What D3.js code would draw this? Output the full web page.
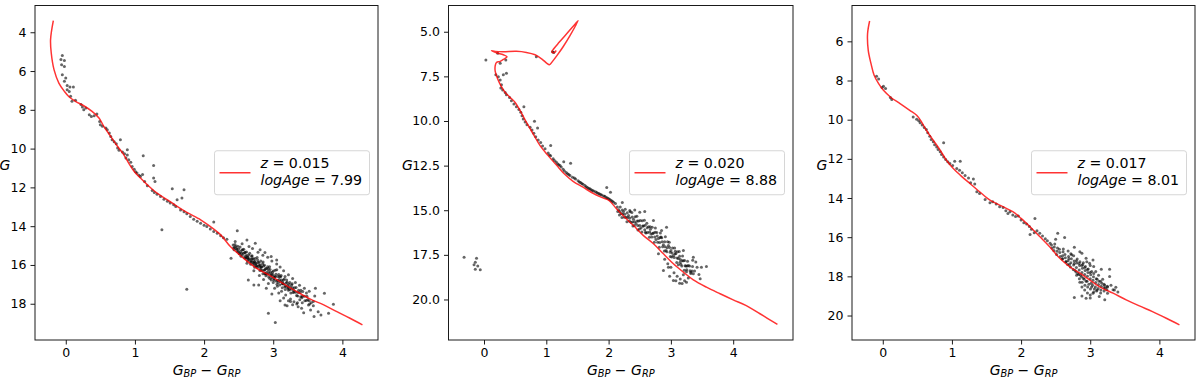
<!DOCTYPE html>
<meta charset="utf-8">

<head>
    <style>
        body { margin: 0; background: #fff; }
        text { font-family: "DejaVu Sans", sans-serif; }
    </style>
    <script src="https://d3js.org/d3.v7.min.js"></script>
</head>

<body>
    <svg id="fig" width="1200" height="379"></svg>

    <script>
        // tick values
        const xTicks = [0, 1, 2, 3, 4];
        const yTicks1 = [4, 6, 8, 10, 12, 14, 16, 18];
        const yTicks2 = [5, 7.5, 10, 12.5, 15, 17.5, 20];
        const yTicks3 = [6, 8, 10, 12, 14, 16, 18, 20];

        // legend values
        const metallicity = ["0.015", "0.020", "0.017"];
        const logAge = ["7.99", "8.88", "8.01"];

        // isochrones [colour, G]
        const iso1 = [[-0.18, 3.4], [-0.22, 4.38], [-0.21, 5.07], [-0.17, 5.93], [-0.10, 6.62], [-0.02, 7.05],
            [0.05, 7.34], [0.14, 7.56], [0.26, 7.79], [0.38, 8.08], [0.48, 8.42], [0.55, 8.85], [0.65, 9.37],
            [0.75, 9.89], [0.84, 10.32], [0.91, 10.75], [0.99, 11.18], [1.08, 11.52], [1.18, 11.87], [1.32, 12.30],
            [1.47, 12.64], [1.61, 12.98], [1.75, 13.29], [1.95, 13.67], [2.09, 14.02], [2.24, 14.45], [2.38, 15.05],
            [2.57, 15.65], [2.76, 16.17], [2.96, 16.56], [3.15, 16.98], [3.34, 17.37], [3.53, 17.75], [3.73, 18.06],
            [3.92, 18.41], [4.11, 18.75], [4.29, 19.09]];

        const iso2 = [[4.71, 21.40], [4.43, 20.80], [4.21, 20.34], [4.00, 20.02], [3.79, 19.68], [3.57, 19.31],
            [3.36, 18.90], [3.20, 18.47], [3.04, 18.00], [2.88, 17.44], [2.72, 16.88], [2.56, 16.42], [2.40, 15.86],
            [2.26, 15.39], [2.13, 14.93], [2.01, 14.46], [1.91, 14.31], [1.75, 14.05], [1.59, 13.71], [1.43, 13.38],
            [1.30, 13.00], [1.17, 12.50], [1.03, 11.94], [0.90, 11.38], [0.79, 10.73], [0.68, 10.07], [0.58, 9.42],
            [0.50, 8.96], [0.42, 8.68], [0.34, 8.40], [0.27, 8.02], [0.22, 7.65], [0.18, 7.22], [0.18, 6.90],
            [0.20, 6.72], [0.26, 6.66], [0.32, 6.53], [0.37, 6.40], [0.31, 6.29], [0.20, 6.18], [0.12, 6.06],
            [0.18, 6.10], [0.31, 6.12], [0.52, 6.10], [0.68, 6.16], [0.82, 6.29], [0.93, 6.53], [1.01, 6.77],
            [1.05, 6.85], [1.10, 6.66], [1.17, 6.34], [1.27, 5.84], [1.38, 5.22], [1.51, 4.38], [1.45, 4.62],
            [1.33, 5.10], [1.21, 5.58], [1.12, 5.95], [1.09, 6.12], [1.12, 6.18], [1.16, 6.05]];

        const iso3 = [[-0.19, 4.96], [-0.22, 5.61], [-0.21, 6.46], [-0.17, 7.14], [-0.125, 7.73], [-0.06, 8.16],
            [0.01, 8.50], [0.11, 8.84], [0.25, 9.18], [0.39, 9.52], [0.49, 9.77], [0.56, 10.11], [0.63, 10.54],
            [0.73, 11.05], [0.83, 11.56], [0.92, 12.07], [1.02, 12.49], [1.12, 12.83], [1.26, 13.26], [1.40, 13.68],
            [1.55, 14.11], [1.69, 14.36], [1.88, 14.70], [2.00, 15.04], [2.13, 15.47], [2.27, 15.97], [2.41, 16.48],
            [2.56, 17.08], [2.70, 17.50], [2.85, 17.84], [2.99, 18.18], [3.13, 18.52], [3.33, 18.86], [3.52, 19.20],
            [3.71, 19.51], [3.90, 19.80], [4.10, 20.14], [4.29, 20.48]];

        // member stars [colour, G]
        const stars1 = [[-0.05, 5.20], [-0.07, 5.41], [-0.02, 5.46], [-0.06, 5.67], [-0.02, 5.76], [-0.05, 6.19],
            [0.00, 6.36], [-0.02, 6.53], [0.02, 6.75], [0.06, 6.82], [0.11, 6.82], [0.02, 6.96], [0.05, 7.05],
            [0.07, 7.30], [0.09, 7.56], [0.14, 7.51], [0.22, 7.73], [0.24, 7.86], [0.26, 7.99], [0.29, 7.91],
            [0.34, 8.25], [0.37, 8.34], [0.41, 8.30], [0.45, 8.22], [0.49, 8.60], [0.50, 8.77], [0.53, 8.85],
            [0.58, 8.94], [0.60, 9.03], [0.63, 9.20], [0.65, 9.37], [0.67, 9.54], [0.70, 9.65], [0.73, 9.75],
            [0.79, 9.54], [0.75, 9.97], [0.77, 10.09], [0.82, 10.18], [0.85, 10.27], [0.89, 10.06], [0.87, 10.49],
            [0.91, 10.57], [0.89, 10.33], [0.94, 10.70], [0.96, 10.92], [0.99, 11.06], [1.01, 11.19], [1.03, 11.26],
            [1.06, 11.37], [1.08, 11.44], [1.11, 11.33], [1.12, 10.37], [1.27, 10.87], [1.27, 11.52], [1.29, 11.69],
            [1.14, 11.69], [1.18, 11.92], [1.25, 12.16], [1.28, 12.26], [1.32, 12.36], [1.37, 12.47], [1.42, 12.61],
            [1.47, 12.71], [1.51, 12.81], [1.56, 12.90], [1.59, 12.98], [1.54, 12.07], [1.71, 12.12], [1.68, 12.55],
            [1.61, 12.64], [1.66, 13.16], [1.71, 13.26], [1.75, 13.36], [1.80, 13.50], [1.85, 13.64], [1.90, 13.74],
            [1.95, 13.85], [2.00, 13.95], [2.04, 14.02], [2.09, 14.15], [2.14, 13.79], [2.14, 14.28], [2.19, 14.36],
            [2.24, 14.50], [2.28, 14.60], [2.33, 14.67], [1.39, 14.19], [1.75, 17.25], [2.48, 14.24], [2.45, 14.79],
            [2.39, 15.65], [2.62, 14.71], [2.74, 14.88], [2.81, 15.22], [2.88, 15.36], [2.97, 15.57], [3.05, 15.74],
            [2.72, 15.91], [2.62, 15.91], [2.72, 17.03], [2.79, 17.03], [2.64, 16.77], [2.93, 18.49], [3.03, 18.97],
            [3.17, 18.06], [3.25, 17.89], [3.34, 18.01], [3.41, 18.23], [3.44, 18.46], [3.54, 18.32], [3.61, 17.20],
            [3.74, 17.46], [3.87, 18.03], [3.80, 18.49], [3.69, 18.58], [3.59, 18.66], [3.65, 18.41], [3.58, 17.89],
            [3.51, 18.06],
            [2.42, 14.97], [2.427, 15.12], [2.44, 15.09], [2.447, 14.95], [2.434, 15.22], [2.46, 15.05], [2.466, 15.18],
            [2.48, 15.30], [2.487, 15.03], [2.474, 15.18], [2.50, 15.18], [2.507, 15.41], [2.494, 15.31],
            [2.52, 15.08], [2.527, 15.31], [2.514, 15.42], [2.54, 15.40], [2.547, 15.23], [2.534, 15.55],
            [2.56, 15.22], [2.567, 15.39], [2.554, 15.49], [2.58, 15.62], [2.587, 15.37], [2.574, 15.19],
            [2.60, 15.52], [2.607, 15.63], [2.594, 15.35], [2.62, 15.51], [2.627, 15.78], [2.614, 15.33], [2.631, 15.62],
            [2.64, 15.70], [2.647, 15.49], [2.634, 15.60], [2.66, 15.39], [2.667, 15.82], [2.654, 15.70],
            [2.68, 15.69], [2.687, 15.55], [2.674, 15.97], [2.691, 15.79], [2.70, 15.68], [2.707, 15.88], [2.694, 15.52],
            [2.72, 16.00], [2.727, 15.82], [2.714, 15.68], [2.731, 16.12], [2.74, 15.67], [2.747, 15.92], [2.734, 15.82],
            [2.76, 16.05], [2.767, 15.62], [2.754, 15.94], [2.771, 16.13], [2.78, 15.86], [2.787, 16.05], [2.774, 15.75],
            [2.80, 16.01], [2.807, 16.29], [2.794, 15.87], [2.811, 16.13], [2.82, 15.80], [2.827, 16.11], [2.814, 16.00],
            [2.84, 16.28], [2.847, 15.94], [2.834, 16.10], [2.851, 16.45], [2.86, 16.06], [2.867, 16.27], [2.854, 15.85],
            [2.88, 16.25], [2.887, 16.45], [2.874, 16.02], [2.891, 16.18], [2.90, 16.40], [2.907, 16.18], [2.894, 16.56],
            [2.92, 16.09], [2.927, 16.32], [2.914, 16.48], [2.931, 16.19], [2.94, 16.44], [2.947, 16.09], [2.934, 16.62],
            [2.96, 16.37], [2.967, 16.54], [2.954, 16.24], [2.971, 16.78], [2.98, 16.66], [2.987, 16.37], [2.974, 16.49],
            [3.00, 16.31], [3.007, 16.61], [2.994, 16.49], [3.011, 16.79], [3.02, 16.61], [3.027, 16.27], [3.014, 16.72],
            [3.04, 16.48], [3.047, 16.84], [3.034, 16.60], [3.051, 16.25], [3.06, 16.79], [3.067, 16.60], [3.054, 16.99],
            [3.08, 16.49], [3.087, 16.75], [3.074, 16.90], [3.091, 16.61], [3.10, 16.84], [3.107, 16.61], [3.094, 17.03],
            [3.12, 16.77], [3.127, 16.97], [3.114, 16.55], [3.131, 17.17], [3.14, 16.97], [3.147, 16.77], [3.134, 16.88],
            [3.16, 16.73], [3.167, 17.13], [3.154, 16.98], [3.171, 16.60], [3.18, 17.10], [3.187, 16.93], [3.174, 17.26],
            [3.20, 16.89], [3.207, 17.06], [3.194, 16.77], [3.211, 17.20], [3.22, 17.31], [3.227, 16.99], [3.214, 17.16],
            [3.24, 16.91], [3.247, 17.12], [3.234, 17.27], [3.26, 17.25], [3.267, 17.03], [3.254, 17.45],
            [3.28, 17.17], [3.287, 17.42], [3.274, 16.97], [3.30, 17.39], [3.307, 17.17], [3.294, 17.30],
            [3.33, 17.16], [3.337, 17.58], [3.324, 17.41], [3.36, 17.42], [3.367, 17.30], [3.354, 17.60],
            [3.39, 17.42], [3.397, 17.64], [3.384, 17.80], [3.42, 17.62], [3.427, 17.37], [3.414, 17.69],
            [3.45, 17.61], [3.457, 17.85], [3.48, 17.83], [3.487, 17.61], [3.52, 17.85], [3.527, 18.01],
            [2.55, 14.90], [2.65, 15.05], [2.70, 15.15], [2.78, 15.35], [2.85, 15.50], [2.92, 15.60], [2.98, 15.80],
            [3.05, 15.95], [3.10, 16.10], [3.15, 16.30], [3.22, 16.50], [3.28, 16.70], [3.32, 16.90], [3.38, 17.05],
            [3.45, 17.20], [3.52, 17.35], [2.60, 15.65], [2.68, 15.85], [2.75, 16.05], [2.82, 16.25], [2.88, 16.45],
            [2.95, 16.70], [3.00, 16.90], [3.06, 17.10], [3.12, 17.35], [3.18, 17.55], [3.25, 17.75], [3.30, 17.90],
            [3.35, 17.95], [2.72, 16.30], [2.80, 16.55], [2.86, 16.75], [2.93, 16.95], [3.02, 17.20], [3.08, 17.45],
            [3.15, 17.70], [3.22, 17.85], [3.28, 18.05], [3.36, 18.15], [3.42, 17.95], [3.50, 17.80], [3.55, 17.95],
            [3.60, 17.60], [3.48, 17.45], [3.40, 17.30], [3.58, 18.10], [3.20, 18.10], [3.10, 17.85], [2.98, 17.50],
            [2.90, 17.20]];

        const stars2 = [[0.03, 6.59], [0.22, 6.21], [0.26, 6.77], [0.35, 6.59], [0.84, 6.40], [1.10, 6.12],
            [1.12, 6.16], [0.19, 7.41], [0.23, 7.52], [0.31, 7.41], [0.36, 7.33], [0.26, 7.71], [0.28, 7.97],
            [0.27, 8.15], [0.30, 8.26], [0.34, 8.40], [0.36, 8.53], [0.41, 8.68], [0.44, 8.86], [0.48, 9.05],
            [0.52, 9.20], [0.64, 9.20], [0.56, 9.35], [0.59, 9.51], [0.61, 9.70], [0.63, 9.89], [0.66, 10.06],
            [0.69, 10.21], [0.74, 10.35], [0.81, 10.02], [0.86, 10.39], [0.77, 10.50], [0.80, 10.69], [0.83, 10.88],
            [0.87, 11.06], [0.91, 11.21], [1.07, 11.38], [0.94, 11.40], [0.98, 11.55],
            [1.03, 11.80], [1.07, 11.95], [1.11, 12.12], [1.16, 12.30], [1.20, 12.45], [1.24, 12.58], [1.29, 12.80],
            [1.34, 12.95], [1.38, 13.05], [1.42, 13.15], [1.47, 13.25], [1.51, 13.35], [1.55, 13.45], [1.59, 13.55],
            [1.64, 13.68], [1.68, 13.78], [1.72, 13.85], [1.76, 13.92], [1.81, 14.00], [1.85, 14.08], [1.89, 14.15],
            [1.94, 14.22], [1.98, 14.32], [2.02, 14.40], [2.06, 14.50], [2.11, 14.62],
            [1.05, 11.90], [1.13, 12.22], [1.18, 12.40], [1.22, 12.50], [1.27, 12.70], [1.32, 12.88], [1.36, 13.00],
            [1.45, 13.20], [1.53, 13.42], [1.57, 13.50], [1.62, 13.62], [1.66, 13.72], [1.70, 13.80], [1.74, 13.90],
            [1.79, 13.97], [1.83, 14.05], [1.87, 14.12], [1.92, 14.20], [1.96, 14.28], [2.00, 14.36], [2.04, 14.45],
            [2.08, 14.55], [1.28, 12.28], [1.39, 12.37], [1.97, 13.73], [2.03, 13.99], [2.22, 14.57],
            [2.34, 15.02], [2.42, 14.98], [2.50, 15.11], [2.58, 15.07], [2.72, 15.58], [2.85, 16.14],
            [2.93, 15.95], [3.20, 17.26], [3.36, 17.63], [3.49, 18.19], [3.57, 18.15], [3.47, 18.84], [3.36, 18.56],
            [3.25, 19.03], [3.14, 19.09], [3.04, 18.94], [2.96, 18.19], [2.88, 18.38], [2.80, 17.44],
            [2.14, 14.82], [2.147, 15.07], [2.18, 15.07], [2.187, 14.82], [2.174, 15.27], [2.22, 14.99], [2.227, 15.21],
            [2.214, 15.41], [2.26, 15.22], [2.267, 14.95], [2.254, 15.40], [2.30, 15.14], [2.307, 15.41], [2.294, 15.64],
            [2.34, 15.43], [2.347, 15.08], [2.334, 15.60], [2.38, 15.38], [2.387, 15.66], [2.374, 15.13], [2.391, 15.88],
            [2.42, 15.65], [2.427, 15.37], [2.414, 15.85], [2.46, 15.61], [2.467, 15.86], [2.454, 15.34], [2.471, 16.11],
            [2.50, 15.85], [2.507, 15.57], [2.494, 16.05], [2.54, 15.59], [2.547, 15.89], [2.534, 16.22],
            [2.58, 16.09], [2.587, 15.84], [2.574, 15.56], [2.591, 16.24], [2.62, 15.98], [2.627, 16.25], [2.614, 15.73],
            [2.66, 16.22], [2.667, 15.92], [2.654, 16.52], [2.671, 16.07], [2.70, 15.95], [2.707, 16.30], [2.694, 16.50],
            [2.74, 16.50], [2.747, 16.23], [2.734, 16.80], [2.751, 16.00], [2.78, 16.45], [2.787, 16.80], [2.774, 16.25],
            [2.82, 16.81], [2.827, 16.53], [2.814, 17.08], [2.831, 16.28], [2.86, 16.76], [2.867, 17.04], [2.854, 16.54],
            [2.90, 16.77], [2.907, 17.04], [2.894, 17.29], [2.911, 16.49], [2.94, 17.10], [2.947, 16.77], [2.934, 17.32],
            [2.98, 17.09], [2.987, 17.36], [2.974, 16.79], [2.991, 17.59], [3.02, 17.39], [3.027, 17.12], [3.014, 17.62],
            [3.06, 17.12], [3.067, 17.45], [3.054, 17.65], [3.071, 17.30], [3.10, 17.68], [3.107, 17.33], [3.094, 17.93],
            [3.14, 17.58], [3.147, 17.91], [3.134, 17.31], [3.151, 17.76], [3.18, 17.83], [3.187, 17.56], [3.174, 18.13],
            [3.22, 17.81], [3.227, 18.11], [3.214, 18.36], [3.26, 18.12], [3.267, 17.86], [3.254, 18.34],
            [3.30, 18.12], [3.307, 18.39], [3.34, 18.40], [3.347, 18.15],
            [2.16, 14.97], [2.20, 15.18], [2.24, 15.07], [2.28, 15.40], [2.32, 15.29], [2.36, 15.68], [2.40, 15.50],
            [2.44, 15.74], [2.48, 15.60], [2.52, 16.00], [2.56, 15.89], [2.60, 16.28], [2.64, 15.92], [2.68, 16.33],
            [2.72, 16.27], [2.76, 16.64], [2.80, 16.59], [2.84, 16.50], [2.88, 16.93], [2.92, 17.26], [2.96, 16.98],
            [3.00, 17.26], [3.04, 17.54], [3.08, 17.42], [3.12, 17.70], [3.16, 18.02], [3.20, 17.83], [3.24, 18.12],
            [3.28, 18.10], [3.32, 18.48],
            [3.00, 18.20], [3.05, 18.50], [3.10, 18.70], [3.15, 18.85], [3.20, 18.62], [3.28, 18.80], [2.95, 18.00],
            [2.90, 17.75], [3.38, 18.40], [3.42, 18.20], [3.40, 17.90], [3.45, 18.60], [3.08, 18.95], [3.18, 19.10],
            [3.22, 18.95], [2.98, 18.70], [3.35, 17.80], [3.12, 18.05], [3.25, 18.45], [3.32, 18.55],
            [-0.32, 17.63], [-0.12, 17.69], [-0.14, 17.91], [-0.16, 18.06], [-0.10, 18.13], [-0.06, 18.34],
            [-0.14, 18.30]];

        const stars3 = [[-0.09, 7.78], [-0.06, 7.92], [0.01, 8.29], [0.04, 8.41], [-0.01, 8.36], [0.13, 8.97],
            [0.11, 8.87], [0.44, 9.86], [0.49, 9.98], [0.52, 10.06], [0.54, 10.16], [0.57, 10.27], [0.60, 10.40],
            [0.63, 10.50], [0.65, 10.67], [0.68, 10.84], [0.70, 11.01], [0.73, 11.13], [0.75, 11.28], [0.78, 11.39],
            [0.80, 11.52], [0.83, 11.64], [0.85, 11.78], [0.88, 11.90], [0.88, 11.18], [0.91, 12.03], [0.94, 12.15],
            [0.97, 12.24], [1.01, 12.34], [1.04, 12.12], [1.12, 12.12], [1.07, 12.49], [1.11, 12.58], [1.15, 12.71],
            [1.19, 12.85], [1.24, 12.98], [1.31, 13.03], [1.27, 13.22], [1.33, 13.29], [1.36, 13.68], [1.40, 13.77],
            [1.48, 14.07], [1.55, 14.24], [1.59, 14.19], [1.64, 14.31], [1.69, 14.45], [1.74, 14.48], [1.78, 14.65],
            [1.81, 14.79], [1.84, 14.70], [1.88, 14.87], [1.92, 14.95], [1.96, 14.92], [2.00, 15.12], [2.04, 15.26],
            [2.08, 15.33], [2.12, 15.46], [2.15, 15.60], [2.19, 15.77], [2.13, 15.86], [2.20, 15.04], [2.23, 15.67],
            [2.27, 15.80], [2.31, 15.94], [2.35, 16.08], [2.38, 16.18], [2.42, 16.31],
            [2.53, 15.80], [2.63, 16.01], [2.50, 16.11], [2.77, 16.52], [2.85, 16.74], [2.88, 16.82], [2.94, 17.08],
            [2.99, 17.33], [3.04, 17.16], [3.16, 17.64], [3.28, 17.64], [3.28, 18.01], [3.37, 18.56], [3.33, 18.69],
            [3.25, 18.86], [3.21, 19.20], [3.13, 19.03], [2.94, 19.12], [2.77, 19.08], [3.04, 18.86],
            [2.44, 16.40], [2.447, 16.55], [2.48, 16.50], [2.487, 16.35], [2.474, 16.68], [2.52, 16.72], [2.527, 16.55],
            [2.514, 16.88], [2.56, 16.78], [2.567, 16.98], [2.554, 16.62], [2.60, 16.95], [2.607, 16.75], [2.594, 17.12],
            [2.611, 16.60], [2.64, 17.05], [2.647, 17.25], [2.634, 16.88], [2.68, 17.20], [2.687, 16.98], [2.674, 17.40],
            [2.691, 17.10], [2.72, 17.30], [2.727, 17.10], [2.714, 17.52], [2.731, 16.90], [2.76, 17.42], [2.767, 17.22],
            [2.754, 17.65], [2.771, 17.35], [2.80, 17.55], [2.807, 17.32], [2.794, 17.78], [2.811, 17.12], [2.803, 17.95],
            [2.84, 17.68], [2.847, 17.45], [2.834, 17.90], [2.851, 17.25], [2.843, 18.12], [2.88, 17.80], [2.887, 17.58],
            [2.874, 18.02], [2.891, 17.40], [2.883, 18.30], [2.92, 17.90], [2.927, 17.70], [2.914, 18.15], [2.931, 17.50],
            [2.923, 18.45], [2.96, 18.00], [2.967, 17.80], [2.954, 18.25], [2.971, 17.62], [2.963, 18.55],
            [3.00, 18.12], [3.007, 17.92], [3.014, 18.35], [3.021, 17.75], [3.003, 18.65], [3.04, 18.20], [3.047, 18.02],
            [3.034, 18.45], [3.051, 17.85], [3.08, 18.32], [3.087, 18.12], [3.074, 18.55], [3.091, 18.75],
            [3.12, 18.42], [3.127, 18.25], [3.114, 18.62], [3.16, 18.50], [3.167, 18.35], [3.154, 18.70],
            [3.20, 18.58], [3.207, 18.45], [3.24, 18.68], [3.247, 18.50],
            [2.80, 17.20], [2.84, 17.35], [2.88, 17.45], [2.92, 17.55], [2.96, 17.65], [3.00, 17.80], [2.78, 17.70],
            [2.82, 17.85], [2.86, 17.95], [2.90, 18.10], [2.94, 18.25], [2.98, 18.40], [3.02, 18.55], [3.06, 18.65],
            [2.85, 18.30], [2.88, 18.55], [2.92, 18.70], [2.96, 18.85], [3.00, 18.95], [3.05, 18.80], [3.10, 18.70],
            [3.15, 18.85], [3.20, 18.75], [3.25, 18.55], [3.20, 18.40], [3.18, 18.15], [3.12, 17.95], [3.08, 17.75],
            [3.05, 17.50], [3.00, 17.45], [2.95, 17.25], [2.70, 17.40], [2.65, 17.25], [2.60, 17.10], [2.72, 16.85],
            [2.76, 16.95], [2.68, 16.70], [2.90, 17.30], [3.10, 18.15], [3.15, 18.25], [3.22, 18.60], [3.30, 18.45],
            [3.35, 18.70], [3.40, 18.80], [2.88, 19.00], [3.00, 19.10]];

        const panels = [
            { iso: iso1, stars: stars1, xDom: [-0.445, 4.515], yDom: [2.62, 19.87], yTicks: yTicks1, fmt: d3.format("d"),
              left: 35, right: 378, ylabX: 5 },
            { iso: iso2, stars: stars2, xDom: [-0.57, 4.96], yDom: [3.53, 22.27], yTicks: yTicks2, fmt: d3.format(".1f"),
              left: 448.5, right: 793, ylabX: 407.5 },
            { iso: iso3, stars: stars3, xDom: [-0.445, 4.515], yDom: [4.17, 21.25], yTicks: yTicks3, fmt: d3.format("d"),
              left: 852, right: 1195, ylabX: 822 }
        ];
        const plotTop = 5.5, plotBottom = 340;

        const svg = d3.select("#fig");

        panels.forEach((p, i) => {
            const x = d3.scaleLinear().domain(p.xDom).range([p.left, p.right]);
            const y = d3.scaleLinear().domain(p.yDom).range([plotTop, plotBottom]);
            const g = svg.append("g");

            g.append("clipPath").attr("id", "clip" + i)
                .append("rect")
                .attr("x", p.left).attr("y", plotTop)
                .attr("width", p.right - p.left).attr("height", plotBottom - plotTop);

            const plot = g.append("g").attr("clip-path", `url(#clip${i})`);

            plot.selectAll("circle")
                .data(p.stars)
                .join("circle")
                .attr("cx", d => x(d[0]))
                .attr("cy", d => y(d[1]))
                .attr("r", 1.5)
                .attr("fill", "#000")
                .attr("fill-opacity", 0.6);

            plot.append("path")
                .datum(p.iso)
                .attr("d", d3.line().x(d => x(d[0])).y(d => y(d[1])).curve(d3.curveCatmullRom.alpha(0.5)))
                .attr("fill", "none")
                .attr("stroke", "#ff0000")
                .attr("stroke-opacity", 0.8)
                .attr("stroke-width", 1.5);

            // axes
            const xAxis = g.append("g")
                .attr("transform", `translate(0,${plotBottom})`)
                .call(d3.axisBottom(x).tickValues(xTicks).tickFormat(d3.format("d")).tickSize(4.5).tickPadding(4));
            const yAxis = g.append("g")
                .attr("transform", `translate(${p.left},0)`)
                .call(d3.axisLeft(y).tickValues(p.yTicks).tickFormat(p.fmt).tickSize(4.5).tickPadding(4));
            [xAxis, yAxis].forEach(a => {
                a.select(".domain").remove();
                a.selectAll("text").attr("font-size", "12.5px").attr("fill", "#000")
                    .attr("font-family", "DejaVu Sans");
                a.selectAll("line").attr("stroke", "#000").attr("stroke-width", 0.9);
            });

            g.append("rect")
                .attr("x", p.left).attr("y", plotTop)
                .attr("width", p.right - p.left).attr("height", plotBottom - plotTop)
                .attr("fill", "none").attr("stroke", "#1a1a1a").attr("stroke-width", 1);

            // axis labels
            const xl = g.append("text")
                .attr("x", (p.left + p.right) / 2).attr("y", 374.5)
                .attr("text-anchor", "middle").attr("font-size", "14px");
            xl.append("tspan").attr("font-style", "italic").text("G");
            xl.append("tspan").attr("font-style", "italic").attr("font-size", "9.8px").attr("dy", 2.2).text("BP");
            xl.append("tspan").attr("dy", -2.2).text(" \u2212 ");
            xl.append("tspan").attr("font-style", "italic").text("G");
            xl.append("tspan").attr("font-style", "italic").attr("font-size", "9.8px").attr("dy", 2.2).text("RP");

            g.append("text")
                .attr("x", p.ylabX).attr("y", 170)
                .attr("text-anchor", "middle").attr("font-size", "14px")
                .attr("font-style", "italic").text("G");

            // legend
            const cy = (plotTop + plotBottom) / 2;
            const lx = p.right - 8.5 - 155;
            const lg = g.append("g");
            lg.append("rect")
                .attr("x", lx).attr("y", cy - 22).attr("width", 155).attr("height", 44)
                .attr("rx", 2.5).attr("fill", "#fff").attr("fill-opacity", 0.8)
                .attr("stroke", "#d6d6d6").attr("stroke-width", 1);
            lg.append("line")
                .attr("x1", lx + 5).attr("x2", lx + 36).attr("y1", cy).attr("y2", cy)
                .attr("stroke", "#ff0000").attr("stroke-opacity", 0.8).attr("stroke-width", 1.5);
            const t1 = lg.append("text").attr("x", lx + 46).attr("y", cy - 5.2).attr("font-size", "14.2px");
            t1.append("tspan").attr("font-style", "italic").text("z");
            t1.append("tspan").text(" = " + metallicity[i]);
            const t2 = lg.append("text").attr("x", lx + 46).attr("y", cy + 12).attr("font-size", "14.2px");
            t2.append("tspan").attr("font-style", "italic").text("logAge");
            t2.append("tspan").text(" = " + logAge[i]);
        });
    </script>
</body>
